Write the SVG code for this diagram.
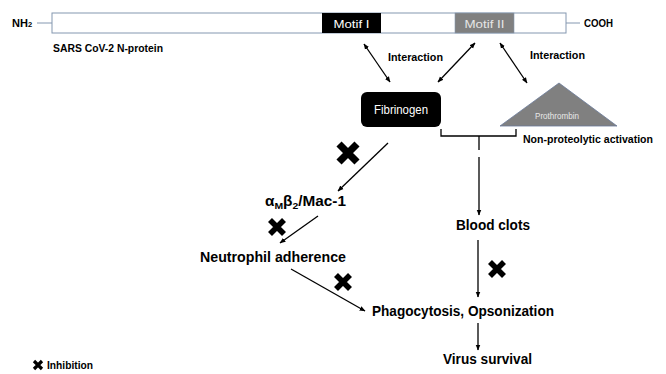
<svg xmlns="http://www.w3.org/2000/svg" width="666" height="374" viewBox="0 0 666 374">
<style>
.t{font-family:"Liberation Sans",Arial,sans-serif;font-weight:bold;fill:#000}
.s{font-size:11px}
.m{font-size:14px}
.ln{stroke:#000;stroke-width:1.3;fill:none}
.x{stroke:#000;stroke-linecap:butt;fill:none}
</style>
<defs>
<marker id="ah" viewBox="0 0 10 10" refX="9" refY="5" markerWidth="6" markerHeight="6" orient="auto-start-reverse" markerUnits="userSpaceOnUse">
<path d="M0,1 L10,5 L0,9 z" fill="#000"/>
</marker>
<path id="xm" d="M-1,-1 L1,1 M-1,1 L1,-1"/>
</defs>
<rect width="666" height="374" fill="#fff"/>
<g id="protein">
<line x1="37" y1="23" x2="52" y2="23" stroke="#8497b0" stroke-width="1"/>
<line x1="566" y1="23" x2="580" y2="23" stroke="#8497b0" stroke-width="1"/>
<rect x="52" y="13" width="514" height="20" fill="#fff" stroke="#8497b0" stroke-width="1"/>
<rect x="322" y="13" width="59" height="20" fill="#000"/>
<rect x="455" y="13" width="59" height="20" fill="#808080" stroke="#8497b0" stroke-width="0.6"/>
<text x="351.5" y="27.5" text-anchor="middle" textLength="36" lengthAdjust="spacingAndGlyphs" style="font-family:'Liberation Sans',Arial,sans-serif;font-size:11.5px;fill:#fff">Motif I</text>
<text x="484.5" y="27.5" text-anchor="middle" textLength="40" lengthAdjust="spacingAndGlyphs" style="font-family:'Liberation Sans',Arial,sans-serif;font-size:11.5px;fill:#e6e6e6">Motif II</text>
<text class="t s" x="12" y="27">NH<tspan font-size="7.5">2</tspan></text>
<text class="t s" x="584" y="27" textLength="29" lengthAdjust="spacingAndGlyphs">COOH</text>
<text class="t s" x="53" y="52" textLength="110" lengthAdjust="spacingAndGlyphs">SARS CoV-2 N-protein</text>
</g>
<g id="fibrinogen">
<rect x="361" y="92" width="80" height="35" rx="6" fill="#000"/>
<text x="401" y="114" text-anchor="middle" textLength="54" lengthAdjust="spacingAndGlyphs" style="font-family:'Liberation Sans',Arial,sans-serif;font-size:12px;fill:#fff">Fibrinogen</text>
</g>
<g id="prothrombin">
<polygon points="559,83 617,126 500,126" fill="#808080" stroke="#6a7a99" stroke-width="0.8"/>
<text x="535" y="119" textLength="44" lengthAdjust="spacingAndGlyphs" style="font-family:'Liberation Sans',Arial,sans-serif;font-size:8.5px;fill:#e8e8e8">Prothrombin</text>
</g>
<g id="labels">
<text class="t s" x="388" y="61" textLength="55" lengthAdjust="spacingAndGlyphs">Interaction</text>
<text class="t s" x="530" y="59" textLength="55" lengthAdjust="spacingAndGlyphs">Interaction</text>
<text class="t s" x="523" y="143" textLength="130" lengthAdjust="spacingAndGlyphs">Non-proteolytic activation</text>
</g>
<g id="mac1"><text class="t m" x="265" y="206" textLength="81" lengthAdjust="spacingAndGlyphs">α<tspan font-size="9.5" dy="3">M</tspan><tspan dy="-3">β</tspan><tspan font-size="9.5" dy="3">2</tspan><tspan dy="-3">/Mac-1</tspan></text></g>
<g id="neutrophil"><text class="t m" x="200" y="262" textLength="146" lengthAdjust="spacingAndGlyphs">Neutrophil adherence</text></g>
<g id="bloodclots"><text class="t m" x="456" y="230" textLength="74" lengthAdjust="spacingAndGlyphs">Blood clots</text></g>
<g id="phago"><text class="t m" x="372" y="316" textLength="182" lengthAdjust="spacingAndGlyphs">Phagocytosis, Opsonization</text></g>
<g id="virus"><text class="t m" x="443" y="364" textLength="89" lengthAdjust="spacingAndGlyphs">Virus survival</text></g>
<g id="connectors">
<line class="ln" x1="364" y1="44" x2="390" y2="82" marker-start="url(#ah)" marker-end="url(#ah)"/>
<line class="ln" x1="475" y1="43" x2="438" y2="82" marker-start="url(#ah)" marker-end="url(#ah)"/>
<line class="ln" x1="500" y1="43" x2="527" y2="83" marker-start="url(#ah)" marker-end="url(#ah)"/>
<path class="ln" d="M441,129 V136 H516 V129 M479,136 V150"/>
<line class="ln" x1="479" y1="157" x2="479" y2="215" marker-end="url(#ah)"/>
<line class="ln" x1="388" y1="143" x2="338" y2="191" marker-end="url(#ah)"/>
<line class="ln" x1="318" y1="216" x2="280" y2="243" marker-end="url(#ah)"/>
<line class="ln" x1="291" y1="269" x2="365" y2="311" marker-end="url(#ah)"/>
<line class="ln" x1="478" y1="240" x2="478" y2="297" marker-end="url(#ah)"/>
<line class="ln" x1="478" y1="323" x2="478" y2="350" marker-end="url(#ah)"/>
</g>
<g id="inhibitions">
<use href="#xm" class="x" transform="translate(348,153) scale(9)" stroke-width="0.8"/>
<use href="#xm" class="x" transform="translate(277,227) scale(7)" stroke-width="0.8"/>
<use href="#xm" class="x" transform="translate(343,282) scale(7)" stroke-width="0.8"/>
<use href="#xm" class="x" transform="translate(497,269) scale(7)" stroke-width="0.8"/>
</g>
<g id="legend">
<use href="#xm" class="x" transform="translate(38,365) scale(4)" stroke-width="0.8"/>
<text class="t s" x="47" y="369" textLength="46" lengthAdjust="spacingAndGlyphs">Inhibition</text>
</g>
</svg>
